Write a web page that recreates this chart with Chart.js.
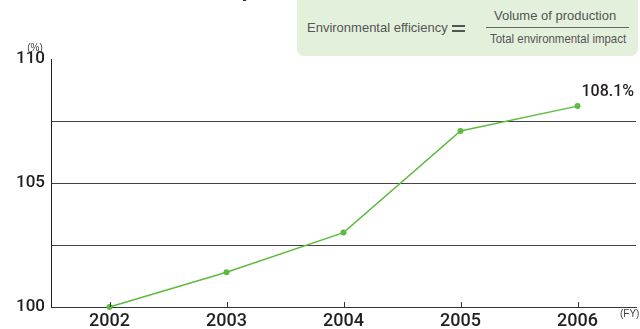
<!DOCTYPE html>
<html>
<head>
<meta charset="utf-8">
<script src="https://cdn.jsdelivr.net/npm/chart.js@4/dist/chart.umd.min.js"></script>
<style>
  html, body { margin: 0; padding: 0; background: #fff; }
  #wrap { position: relative; width: 640px; height: 329px; overflow: hidden; font-family: "Liberation Sans", Arial, sans-serif; }
  #chart { position: absolute; left: 0; top: 0; }
  .title { position: absolute; right: 388px; top: -18px; font-size: 18px; line-height: 18px; font-weight: bold; color: #222; white-space: nowrap; }
  .box { position: absolute; left: 297px; top: -8px; width: 341px; height: 64px; background: #e3f0dc; border-radius: 7px; }
  .t { position: absolute; color: #555; white-space: nowrap; line-height: 1; }
  .frac { position: absolute; left: 486px; top: 27px; width: 143px; height: 1px; background: #666; }
  .eq { position: absolute; left: 452px; top: 25px; width: 13px; height: 1.5px; background: #555; }
</style>
</head>
<body>
<div id="wrap">
  <canvas id="chart" width="640" height="329"></canvas>
  <div class="title">Trends in Environmental Efficiency</div>
  <div class="box"></div>
  <div class="t" style="left:307px; top:21px; font-size:13px;">Environmental efficiency</div>
  <div class="eq"></div>
  <div class="eq" style="top:30px;"></div>
  <div class="t" style="left:494px; top:9px; font-size:13px;">Volume of production</div>
  <div class="frac"></div>
  <div class="t" style="left:490px; top:32px; font-size:13px; transform: scaleX(0.88); transform-origin: left top;">Total environmental impact</div>
</div>
<script>
const years = ['2002', '2003', '2004', '2005', '2006'];
const efficiency = [100, 101.4, 103.0, 107.1, 108.1];
const yTickLabels = [100, 105, 110];
const lastLabel = '108.1%';

const green = '#5dbb3f';
const ink = '#231f20';
const tickFont = 'Roboto, "Liberation Sans", Arial, sans-serif';

const extras = {
  id: 'extras',
  afterDatasetsDraw(chart) {
    const ctx = chart.ctx;
    const xs = chart.scales.x;
    const area = chart.chartArea;
    ctx.save();
    // small tick marks pointing up into the plot
    ctx.strokeStyle = '#333';
    ctx.lineWidth = 1;
    years.forEach((y, i) => {
      const x = Math.round(xs.getPixelForValue(i)) + 0.5;
      ctx.beginPath();
      ctx.moveTo(x, area.bottom - 5);
      ctx.lineTo(x, area.bottom);
      ctx.stroke();
    });
    // value label on the last point
    const pts = chart.getDatasetMeta(0).data;
    const p = pts[pts.length - 1];
    ctx.fillStyle = ink;
    ctx.font = '500 16px ' + tickFont;
    ctx.textBaseline = 'middle';
    ctx.textAlign = 'left';
    ctx.fillText(lastLabel, p.x + 4, p.y - 14);
    // unit labels
    ctx.fillStyle = '#444';
    ctx.font = '10px "Liberation Sans", Arial, sans-serif';
    ctx.textAlign = 'center';
    ctx.fillText('(%)', 35, 48);
    ctx.textAlign = 'left';
    ctx.fillText('(FY)', 620, 314);
    ctx.restore();
  }
};

new Chart(document.getElementById('chart'), {
  type: 'line',
  data: {
    labels: years,
    datasets: [{
      data: efficiency,
      borderColor: green,
      backgroundColor: green,
      borderWidth: 1.5,
      pointRadius: 3,
      pointBorderWidth: 0,
      pointBackgroundColor: green,
      tension: 0,
      fill: false,
      clip: false
    }]
  },
  options: {
    responsive: false,
    animation: false,
    layout: { padding: { left: 0, top: 59, right: 3, bottom: 0 } },
    plugins: { legend: { display: false }, tooltip: { enabled: false } },
    scales: {
      x: {
        offset: true,
        grid: { display: false, drawTicks: false },
        border: { display: true, color: '#333', width: 1 },
        ticks: {
          color: ink,
          font: { family: tickFont, size: 18, weight: 500 },
          padding: 4,
          maxRotation: 0
        },
        afterFit(scale) { scale.height = 22; }
      },
      y: {
        min: 100,
        max: 110,
        ticks: {
          stepSize: 2.5,
          color: ink,
          padding: 6,
          font: { family: tickFont, size: 17, weight: 500 },
          callback: v => yTickLabels.includes(v) ? String(v) : ''
        },
        grid: {
          drawTicks: false,
          color: ctx => (ctx.tick && ctx.tick.value > 100 && ctx.tick.value < 110) ? '#444' : 'rgba(0,0,0,0)',
          lineWidth: 1
        },
        border: { display: true, color: '#222', width: 1 },
        afterFit(scale) { scale.width = 51; }
      }
    }
  },
  plugins: [extras]
});
</script>
</body>
</html>
